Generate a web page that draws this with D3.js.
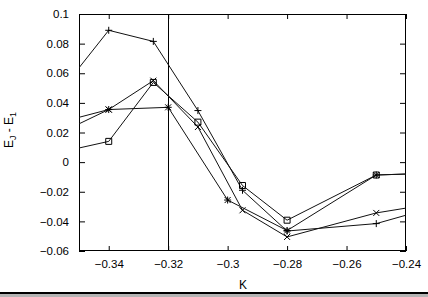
<!DOCTYPE html>
<html>
<head>
<meta charset="utf-8">
<script src="https://cdn.jsdelivr.net/npm/d3@7"></script>
<style>
  html, body { margin: 0; padding: 0; background: #fff; }
  svg { display: block; font-family: "Liberation Sans", Arial, sans-serif; }
</style>
</head>
<body>
<svg width="428" height="297"></svg>
<script>
// data (first/last points sit just outside the frame and get clipped)
const kA = [-0.355, -0.34, -0.325, -0.31, -0.295, -0.28, -0.25, -0.235]
const kB = [-0.36, -0.34, -0.32, -0.30, -0.28, -0.25, -0.23]
const plusVals = [0.051, 0.089, 0.0815, 0.0348, -0.019, -0.0465, -0.0415, -0.033]
const crossVals = [0.021, 0.0355, 0.055, 0.0237, -0.0325, -0.0505, -0.0343, -0.0294]
const squareVals = [0.0073, 0.014, 0.0538, 0.027, -0.0158, -0.0392, -0.0087, -0.0077]
const starVals = [0.025, 0.0355, 0.037, -0.0256, -0.0462, -0.0087, -0.0074]
const xTicks = [-0.34, -0.32, -0.30, -0.28, -0.26, -0.24]
const yTicks = [-0.06, -0.04, -0.02, 0, 0.02, 0.04, 0.06, 0.08, 0.1]
const markerK = -0.32

const series = [
  { k: kA, v: plusVals, mark: 'plus' },
  { k: kA, v: crossVals, mark: 'cross' },
  { k: kA, v: squareVals, mark: 'square' },
  { k: kB, v: starVals, mark: 'star' }
]

const svg = d3.select('svg')
const mLeft = 79, mRight = 406, mTop = 14, mBottom = 251

const x = d3.scaleLinear().domain([-0.35, -0.24]).range([mLeft, mRight])
const y = d3.scaleLinear().domain([-0.06, 0.1]).range([mBottom, mTop])
const fmt = d3.format('~g')

svg.append('clipPath').attr('id', 'clip')
  .append('rect')
    .attr('x', mLeft).attr('y', mTop)
    .attr('width', mRight - mLeft).attr('height', mBottom - mTop)

// axes: inward ticks on all four sides, labels on left and bottom only
svg.append('g')
    .attr('transform', `translate(0, ${mBottom})`)
    .call(d3.axisBottom(x).tickValues(xTicks).tickSize(-5).tickPadding(9).tickFormat(fmt))
svg.append('g')
    .attr('transform', `translate(${mLeft}, 0)`)
    .call(d3.axisLeft(y).tickValues(yTicks).tickSize(-6).tickPadding(10).tickFormat(fmt))
svg.append('g')
    .attr('transform', `translate(0, ${mTop})`)
    .call(d3.axisTop(x).tickValues(xTicks).tickSize(-5).tickFormat(''))
svg.append('g')
    .attr('transform', `translate(${mRight}, 0)`)
    .call(d3.axisRight(y).tickValues(yTicks).tickSize(-6).tickFormat(''))

svg.selectAll('.domain').remove()
svg.selectAll('.tick line').attr('stroke', '#000')
svg.selectAll('.tick text').attr('fill', '#000').style('font-size', '11.5px')

svg.append('rect')
    .attr('x', mLeft + 0.5).attr('y', mTop + 0.5)
    .attr('width', mRight - mLeft - 1).attr('height', mBottom - mTop - 1)
    .attr('fill', 'none').attr('stroke', '#000')

// vertical reference line
svg.append('line')
    .attr('x1', Math.round(x(markerK)) + 0.5).attr('x2', Math.round(x(markerK)) + 0.5)
    .attr('y1', mTop).attr('y2', mBottom)
    .attr('stroke', '#000')

const plot = svg.append('g').attr('clip-path', 'url(#clip)')

const line = d3.line()
    .x(d => x(d[0]))
    .y(d => y(d[1]))

const marks = {
  plus: 'M-3.5,0H3.5M0,-3.5V3.5',
  cross: 'M-3,-3L3,3M-3,3L3,-3',
  star: 'M-3.5,0H3.5M0,-3.5V3.5M-3,-3L3,3M-3,3L3,-3',
  square: 'M-3,-3H3V3H-3Z'
}

series.forEach(s => {
  const pts = s.k.map((k, i) => [k, s.v[i]])
  plot.append('path')
      .datum(pts)
      .attr('d', line)
      .attr('fill', 'none')
      .attr('stroke', '#111')
      .attr('stroke-width', 1)
  plot.selectAll(null)
    .data(pts)
    .enter().append('path')
      .attr('transform', d => `translate(${x(d[0])}, ${y(d[1])})`)
      .attr('d', marks[s.mark])
      .attr('fill', 'none')
      .attr('stroke', '#000')
      .attr('stroke-width', 1)
})

// axis titles
svg.append('text')
    .attr('x', (mLeft + mRight) / 2 + 0.5)
    .attr('y', 289)
    .attr('text-anchor', 'middle')
    .style('font-size', '12px')
    .text('K')

const ylab = svg.append('text')
    .attr('transform', `translate(13, 130) rotate(-90)`)
    .attr('text-anchor', 'middle')
    .style('font-size', '12px')
ylab.append('tspan').text('E')
ylab.append('tspan').attr('dy', 3).style('font-size', '9px').text('J')
ylab.append('tspan').attr('dy', -3).text(' - E')
ylab.append('tspan').attr('dy', 3).style('font-size', '9px').text('1')

// window strip along the bottom
svg.append('rect').attr('x', 0).attr('y', 292).attr('width', 428).attr('height', 2).attr('fill', '#000')
svg.append('rect').attr('x', 0).attr('y', 294).attr('width', 428).attr('height', 3).attr('fill', '#b4b4b4')
</script>
</body>
</html>
